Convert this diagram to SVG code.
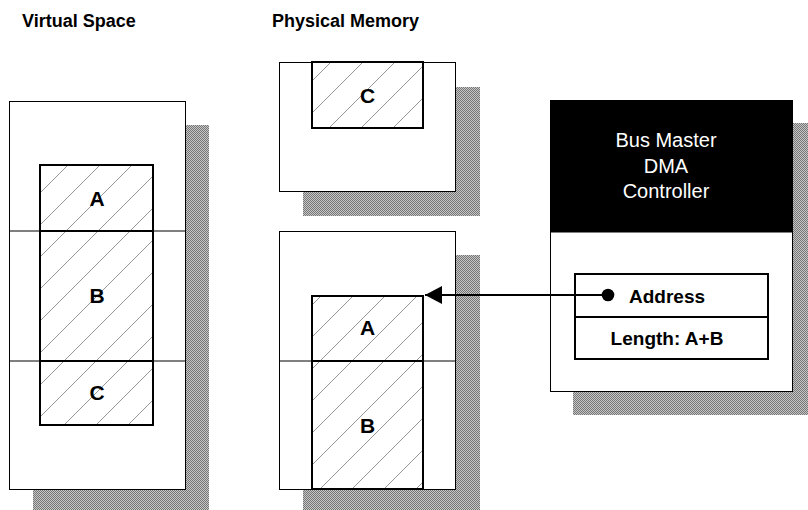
<svg xmlns="http://www.w3.org/2000/svg" width="808" height="510" viewBox="0 0 808 510">
  <defs>
    <pattern id="dither" width="2" height="2" patternUnits="userSpaceOnUse">
      <rect width="2" height="2" fill="#c6c6c6"/>
      <rect width="1" height="1" fill="#767676"/>
      <rect x="1" y="1" width="1" height="1" fill="#767676"/>
    </pattern>
    <pattern id="hatch" x="9" y="0" width="32" height="32" patternUnits="userSpaceOnUse">
      <line x1="-1" y1="33" x2="33" y2="-1" stroke="#7a7a7a" stroke-width="0.8"/>
    </pattern>
    <marker id="arrowhead" markerUnits="userSpaceOnUse" markerWidth="18" markerHeight="18" refX="17" refY="9" orient="auto">
      <path d="M0,0 L17,9 L0,18 Z" fill="#000"/>
    </marker>
  </defs>
  <style>
    .title { font-family: "Liberation Sans", Arial, sans-serif; font-weight: bold; font-size: 18px; fill: #000; }
    .lbl { font-family: "Liberation Sans", Arial, sans-serif; font-weight: bold; font-size: 19px; fill: #000; text-anchor: middle; }
    .big { font-family: "Liberation Sans", Arial, sans-serif; font-weight: bold; font-size: 21px; fill: #000; text-anchor: middle; }
    .wlbl { font-family: "Liberation Sans", Arial, sans-serif; font-size: 20px; fill: #fff; text-anchor: middle; }
    .shadow { fill: url(#dither); }
    .outer { fill: #fff; stroke: #000; stroke-width: 1; }
    .divider { stroke: #000; stroke-width: 1; fill: none; }
    .seg { fill: url(#hatch); stroke: #000; stroke-width: 2; }
    .segline { stroke: #000; stroke-width: 2; }
  </style>
  <rect width="808" height="510" fill="#fff"/>

  <g id="titles">
    <text class="title" x="22" y="27">Virtual Space</text>
    <text class="title" x="272" y="27">Physical Memory</text>
  </g>

  <g id="virtual-space">
    <rect class="shadow" x="33" y="125" width="176" height="390"/>
    <rect class="outer" x="9.5" y="101.5" width="176" height="388"/>
    <line class="divider" x1="9.5" y1="231" x2="185.5" y2="231"/>
    <line class="divider" x1="9.5" y1="361" x2="185.5" y2="361"/>
    <rect class="seg" x="40" y="165" width="113" height="260"/>
    <line class="segline" x1="40" y1="231" x2="153" y2="231"/>
    <line class="segline" x1="40" y1="361" x2="153" y2="361"/>
    <text class="big" x="97" y="206">A</text>
    <text class="big" x="97" y="303">B</text>
    <text class="big" x="97" y="400">C</text>
  </g>

  <g id="physical-top">
    <rect class="shadow" x="303" y="87" width="177" height="129"/>
    <rect class="outer" x="279.5" y="62.5" width="176" height="129"/>
    <rect class="seg" x="312" y="62" width="111" height="66"/>
    <text class="big" x="367.5" y="103">C</text>
  </g>

  <g id="physical-bottom">
    <rect class="shadow" x="303" y="255" width="177" height="260"/>
    <rect class="outer" x="279.5" y="231.5" width="176" height="258"/>
    <line class="divider" x1="279.5" y1="361" x2="455.5" y2="361"/>
    <rect class="seg" x="312" y="296" width="111" height="193"/>
    <line class="segline" x1="312" y1="361" x2="423" y2="361"/>
    <text class="big" x="367.5" y="335">A</text>
    <text class="big" x="367.5" y="433">B</text>
  </g>

  <g id="dma-controller">
    <rect class="shadow" x="573" y="123" width="240" height="292"/>
    <rect class="outer" x="550.5" y="100.5" width="242" height="291"/>
    <rect x="550.5" y="100.5" width="242" height="132" fill="#000"/>
    <text class="wlbl" x="666" y="147">Bus Master</text>
    <text class="wlbl" x="666" y="173">DMA</text>
    <text class="wlbl" x="666" y="198">Controller</text>
    <rect x="575" y="274" width="193" height="85" fill="#fff" stroke="#000" stroke-width="2"/>
    <line class="segline" x1="575" y1="317" x2="768" y2="317"/>
    <text class="lbl" x="667" y="303">Address</text>
    <text class="lbl" x="667" y="345">Length: A+B</text>
  </g>

  <g id="connectors">
    <line x1="608" y1="295" x2="425" y2="295" stroke="#000" stroke-width="2" marker-end="url(#arrowhead)"/>
    <circle cx="608" cy="295" r="6.3" fill="#000"/>
  </g>
</svg>
